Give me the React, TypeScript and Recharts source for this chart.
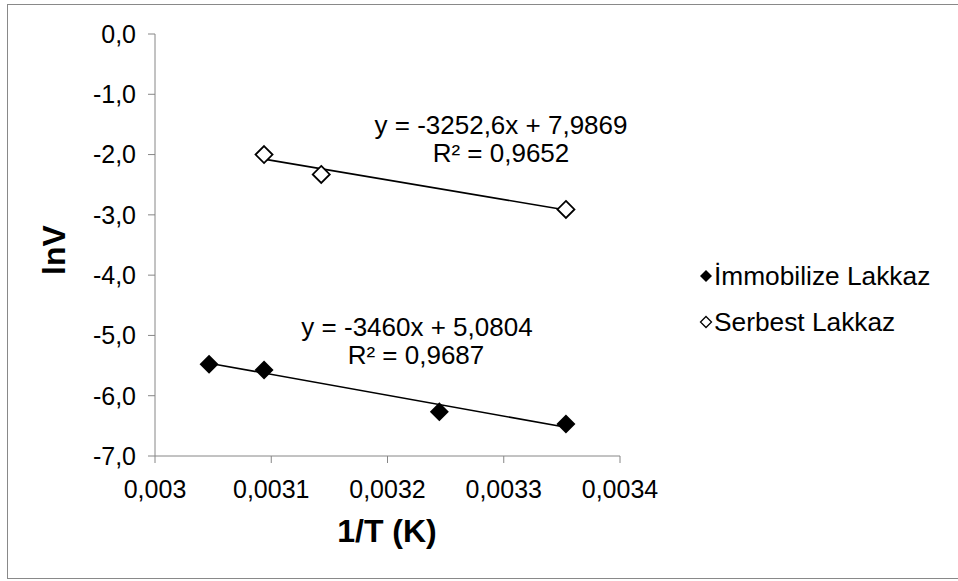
import React from "react";
import { ScatterChart, Scatter, XAxis, YAxis, ReferenceLine } from "recharts";

const FONT = '"Liberation Sans", Arial, sans-serif';

// İmmobilize Lakkaz
const immobX = [0.0030465, 0.0030938, 0.0032446, 0.0033535];
const immobY = [-5.48, -5.575, -6.266, -6.47];
// Serbest Lakkaz
const serbX = [0.0030938, 0.003143, 0.0033535];
const serbY = [-2.0, -2.33, -2.91];

// trendline equations as printed on the chart
const immobFit = { slope: -3460, intercept: 5.0804, eq: "y = -3460x + 5,0804", r2: "R² = 0,9687" };
const serbFit = { slope: -3252.6, intercept: 7.9869, eq: "y = -3252,6x + 7,9869", r2: "R² = 0,9652" };

const xTicks = [0.003, 0.0031, 0.0032, 0.0033, 0.0034];
const yTicks = [0, -1, -2, -3, -4, -5, -6, -7];

const immobData = immobX.map((x, i) => ({ x, y: immobY[i] }));
const serbData = serbX.map((x, i) => ({ x, y: serbY[i] }));

function fitSegment(xs: number[], fit: { slope: number; intercept: number }) {
  const x1 = Math.min(...xs);
  const x2 = Math.max(...xs);
  return [
    { x: x1, y: fit.slope * x1 + fit.intercept },
    { x: x2, y: fit.slope * x2 + fit.intercept },
  ];
}

function FilledDiamond(props: any) {
  const { cx, cy } = props;
  const r = 9.5;
  return <polygon points={`${cx},${cy - r} ${cx + r},${cy} ${cx},${cy + r} ${cx - r},${cy}`} fill="#000" />;
}

function OpenDiamond(props: any) {
  const { cx, cy } = props;
  const r = 8.5;
  return (
    <polygon
      points={`${cx},${cy - r} ${cx + r},${cy} ${cx},${cy + r} ${cx - r},${cy}`}
      fill="#fff"
      stroke="#000"
      strokeWidth={1.8}
    />
  );
}

const tickStyle = { fill: "#000", fontSize: 25, fontFamily: FONT };
const axisColor = "#868686";

function Text({ x, y, children, size = 26, bold = false, rotate = false }: any) {
  return (
    <div
      style={{
        position: "absolute",
        left: x,
        top: y,
        transform: `translate(-50%, -50%)${rotate ? " rotate(-90deg)" : ""}`,
        fontFamily: FONT,
        fontSize: size,
        fontWeight: bold ? 700 : 400,
        whiteSpace: "nowrap",
        lineHeight: 1,
        color: "#000",
      }}
    >
      {children}
    </div>
  );
}

const legendText = {
  position: "absolute" as const,
  left: 714,
  transform: "translateY(-50%)",
  fontFamily: FONT,
  fontSize: 26.3,
  lineHeight: 1,
  whiteSpace: "nowrap" as const,
};

export default function App() {
  return (
    <div style={{ position: "absolute", left: 0, top: 0, width: 958, height: 581, background: "#fff", overflow: "hidden" }}>
      <div
        style={{
          position: "absolute",
          left: 7,
          top: 4,
          width: 960,
          height: 575,
          border: "1px solid #898989",
          boxSizing: "border-box",
        }}
      />
      <ScatterChart
        width={958}
        height={581}
        margin={{ top: 34, left: 105, right: 338, bottom: 75 }}
        style={{ position: "absolute", left: 0, top: 0 }}
      >
        <XAxis
          type="number"
          dataKey="x"
          domain={[0.003, 0.0034]}
          ticks={xTicks}
          height={50}
          tickFormatter={(v: number) => String(Number(v.toFixed(4))).replace(".", ",")}
          tick={tickStyle}
          tickSize={7}
          tickMargin={17}
          stroke={axisColor}
          tickLine={{ stroke: axisColor }}
          interval={0}
          allowDataOverflow
        />
        <YAxis
          type="number"
          dataKey="y"
          domain={[-7, 0]}
          ticks={yTicks}
          width={50}
          tickFormatter={(v: number) => v.toFixed(1).replace(".", ",")}
          tick={tickStyle}
          tickSize={7}
          tickMargin={12}
          stroke={axisColor}
          tickLine={{ stroke: axisColor }}
          interval={0}
          allowDataOverflow
        />
        <ReferenceLine segment={fitSegment(serbX, serbFit)} stroke="#000" strokeWidth={1.6} ifOverflow="visible" />
        <ReferenceLine segment={fitSegment(immobX, immobFit)} stroke="#000" strokeWidth={1.6} ifOverflow="visible" />
        <Scatter name="Serbest Lakkaz" data={serbData} shape={<OpenDiamond />} isAnimationActive={false} />
        <Scatter name="İmmobilize Lakkaz" data={immobData} shape={<FilledDiamond />} isAnimationActive={false} />
      </ScatterChart>

      {/* trendline labels */}
      <Text x={501} y={125}>{serbFit.eq}</Text>
      <Text x={501} y={153}>{serbFit.r2}</Text>
      <Text x={417} y={327}>{immobFit.eq}</Text>
      <Text x={416} y={355}>{immobFit.r2}</Text>

      {/* axis titles */}
      <Text x={54} y={250} size={32} bold rotate>lnV</Text>
      <Text x={387} y={531} size={32} bold>1/T (K)</Text>

      {/* legend */}
      <svg style={{ position: "absolute", left: 0, top: 0 }} width={958} height={581}>
        <polygon points="706,270 712,276 706,282 700,276" fill="#000" />
        <polygon points="706,316.5 711.5,322 706,327.5 700.5,322" fill="#fff" stroke="#000" strokeWidth={1.3} />
      </svg>
      <div style={{ ...legendText, top: 276 }}>İmmobilize Lakkaz</div>
      <div style={{ ...legendText, top: 322 }}>Serbest Lakkaz</div>
    </div>
  );
}
